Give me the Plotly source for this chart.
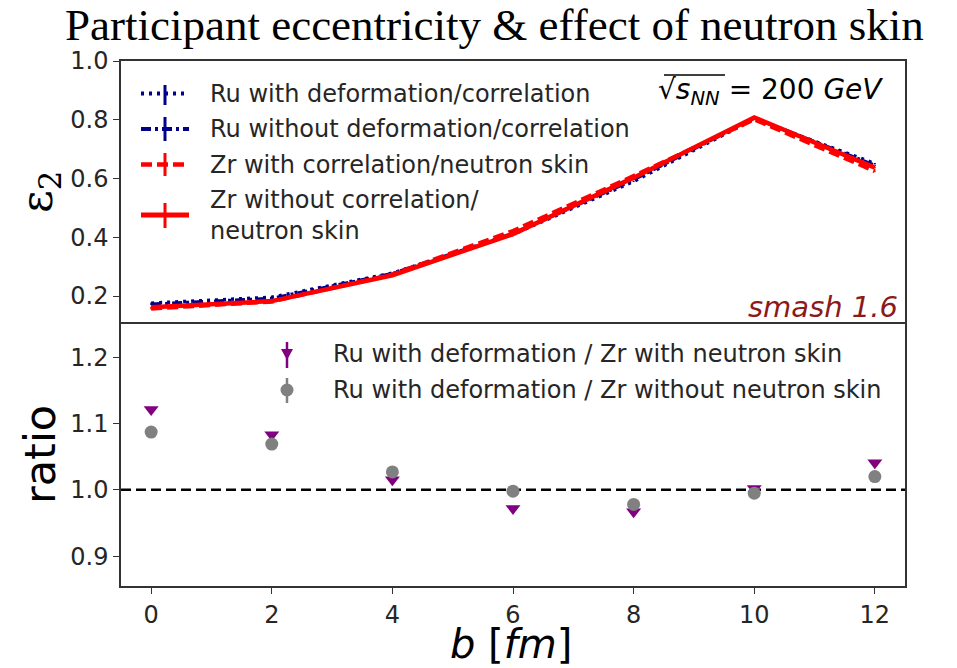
import plotly.graph_objects as go

# impact parameter b [fm]
b_fm = [0, 2, 4, 6, 8, 10, 12]

# participant eccentricity epsilon_2 for the four nucleus configurations
eps2_ru_def = [0.176, 0.196, 0.278, 0.410, 0.590, 0.803, 0.651]
eps2_ru_nodef = [0.172, 0.192, 0.276, 0.413, 0.596, 0.806, 0.645]
eps2_zr_skin = [0.157, 0.181, 0.274, 0.422, 0.609, 0.801, 0.625]
eps2_zr_noskin = [0.162, 0.183, 0.271, 0.411, 0.603, 0.808, 0.637]
eps2_err = [0.002, 0.002, 0.002, 0.002, 0.002, 0.002, 0.002]

# ratios Ru(deformed) / Zr
ratio_skin = [1.121, 1.083, 1.015, 0.972, 0.967, 1.002, 1.041]
ratio_noskin = [1.087, 1.069, 1.027, 0.998, 0.978, 0.995, 1.020]
ratio_err = [0.003, 0.003, 0.003, 0.003, 0.003, 0.003, 0.003]

x_ticks = [0, 2, 4, 6, 8, 10, 12]
eps_ticks = [0.2, 0.4, 0.6, 0.8, 1.0]
ratio_ticks = [0.9, 1.0, 1.1, 1.2]

top_labels = [
    "Ru with deformation/correlation",
    "Ru without deformation/correlation",
    "Zr with correlation/neutron skin",
    "Zr without correlation/<br>neutron skin",
]
bottom_labels = [
    "Ru with deformation / Zr with neutron skin",
    "Ru with deformation / Zr without neutron skin",
]

W, H = 957, 668
L, R, T, B = 121, 905, 61, 586
SPLIT = 324


def px(xp):
    return (xp - L) / (R - L)


def py(yp):
    return (B - yp) / (B - T)


NAVY = "#00008b"
RED = "#ff0000"
PURPLE = "#800080"
GREY = "#808080"
AX = "#333333"
TXT = "#262626"

fig = go.Figure()

line_specs = [
    (eps2_ru_def, NAVY, "3px,5px", 3.5),
    (eps2_ru_nodef, NAVY, "10px,4px,3px,4px", 3.5),
    (eps2_zr_skin, RED, "11px,5px", 4),
    (eps2_zr_noskin, RED, "solid", 4.5),
]
for vals, col, dash, w in line_specs:
    fig.add_trace(go.Scatter(
        x=b_fm, y=vals, mode="lines", xaxis="x", yaxis="y",
        line=dict(color=col, dash=dash, width=w),
        error_y=dict(type="data", array=eps2_err, color=col, thickness=2, width=0),
        showlegend=False, hoverinfo="skip"))

fig.add_trace(go.Scatter(
    x=b_fm, y=ratio_skin, mode="markers", xaxis="x2", yaxis="y2",
    marker=dict(symbol="triangle-down", size=13, color=PURPLE),
    error_y=dict(type="data", array=ratio_err, color=PURPLE, thickness=2, width=0),
    showlegend=False))
fig.add_trace(go.Scatter(
    x=b_fm, y=ratio_noskin, mode="markers", xaxis="x2", yaxis="y2",
    marker=dict(symbol="circle", size=13, color=GREY),
    error_y=dict(type="data", array=ratio_err, color=GREY, thickness=2, width=0),
    showlegend=False))

shapes = []
# reference line at ratio = 1
shapes.append(dict(type="line", xref="x2 domain", yref="y2", x0=0, x1=1, y0=1.0, y1=1.0,
                   line=dict(color="black", width=2.5, dash="10px,5px"), layer="below"))

# legend handles, upper panel
rows = [(93.5, 85, 105), (129, 117, 141), (164.5, 153, 176), (215, 203, 228)]
for (yc, y0, y1), (_, col, dash, w) in zip(rows, line_specs):
    shapes.append(dict(type="line", xref="paper", yref="paper",
                       x0=px(141), x1=px(189), y0=py(yc), y1=py(yc),
                       line=dict(color=col, dash=dash, width=w + 0.5)))
    shapes.append(dict(type="line", xref="paper", yref="paper",
                       x0=px(165), x1=px(165), y0=py(y0), y1=py(y1),
                       line=dict(color=col, width=3)))

# legend handles, lower panel
tx, ty = 287, 354
shapes.append(dict(type="line", xref="paper", yref="paper", x0=px(tx), x1=px(tx),
                   y0=py(342), y1=py(368), line=dict(color=PURPLE, width=2.5)))
shapes.append(dict(type="path", xref="paper", yref="paper",
                   path=f"M {px(tx-6)},{py(ty-5)} L {px(tx+6)},{py(ty-5)} L {px(tx)},{py(ty+6)} Z",
                   fillcolor=PURPLE, line=dict(color=PURPLE, width=0)))
cx, cy = 287, 390
shapes.append(dict(type="line", xref="paper", yref="paper", x0=px(cx), x1=px(cx),
                   y0=py(378), y1=py(403), line=dict(color=GREY, width=2.5)))
shapes.append(dict(type="circle", xref="paper", yref="paper",
                   x0=px(cx - 6.5), x1=px(cx + 6.5), y0=py(cy - 6.5), y1=py(cy + 6.5),
                   fillcolor=GREY, line=dict(color=GREY, width=0)))

# radical bar over s_NN
shapes.append(dict(type="line", xref="paper", yref="paper", x0=px(664), x1=px(725),
                   y0=py(75), y1=py(75), line=dict(color="black", width=1.3)))

ann = []
ann.append(dict(text="Participant eccentricity &amp; effect of neutron skin",
                xref="paper", yref="paper", x=px(494), y=py(25), showarrow=False,
                xanchor="center", yanchor="middle",
                font=dict(family="Liberation Serif", size=45, color="black")))
for (yc, _, _), lab in zip(rows, top_labels):
    ann.append(dict(text=lab, xref="paper", yref="paper", x=px(208), y=py(yc),
                    showarrow=False, xanchor="left", yanchor="middle", align="left",
                    font=dict(family="DejaVu Sans", size=24, color=TXT)))
for yc, lab in zip([354, 390], bottom_labels):
    ann.append(dict(text=lab, xref="paper", yref="paper", x=px(331), y=py(yc),
                    showarrow=False, xanchor="left", yanchor="middle",
                    font=dict(family="DejaVu Sans", size=24, color=TXT)))
ann.append(dict(text="√<i>s</i><sub><i>NN</i></sub> = 200 <i>GeV</i>",
                xref="paper", yref="paper", x=px(885), y=py(92), showarrow=False,
                xanchor="right", yanchor="middle",
                font=dict(family="DejaVu Sans", size=28, color="black")))
ann.append(dict(text="<i>smash 1.6</i>", xref="paper", yref="paper", x=px(900), y=py(307),
                showarrow=False, xanchor="right", yanchor="middle",
                font=dict(family="DejaVu Sans", size=29, color="#8c1a1a")))
ann.append(dict(text="ε<sub>2</sub>", xref="paper", yref="paper", x=px(40), y=py(192),
                showarrow=False, textangle=-90, xanchor="center", yanchor="middle",
                font=dict(family="DejaVu Serif", size=44, color="black")))
ann.append(dict(text="ratio", xref="paper", yref="paper", x=px(40), y=py(455),
                showarrow=False, textangle=-90, xanchor="center", yanchor="middle",
                font=dict(family="DejaVu Sans", size=43, color="black")))
ann.append(dict(text="<i>b</i> [<i>fm</i>]", xref="paper", yref="paper", x=px(511), y=py(644),
                showarrow=False, xanchor="center", yanchor="middle",
                font=dict(family="DejaVu Sans", size=40, color="black")))

split_y = py(SPLIT)
tick_font = dict(family="DejaVu Sans", size=24, color=TXT)
frame = dict(linecolor=AX, linewidth=1.5, showgrid=False, zeroline=False)
tick_style = dict(tickfont=tick_font, tickcolor=AX, ticklen=6, tickwidth=1.3)

fig.update_layout(
    width=W, height=H,
    margin=dict(l=L, r=W - R, t=T, b=H - B),
    paper_bgcolor="white", plot_bgcolor="white",
    showlegend=False,
    # upper panel: only the top edge here, the shared edge comes from the lower panel
    xaxis=dict(domain=[0, 1], anchor="y", side="top", range=[-0.5, 12.5], ticks="",
               showticklabels=False, showline=True, mirror=False, **frame),
    yaxis=dict(domain=[split_y, 1], anchor="x", range=[0.105, 1.0], tickvals=eps_ticks,
               ticktext=[f"{v:.1f}" for v in eps_ticks], ticks="outside",
               showline=True, mirror=True, **frame, **tick_style),
    xaxis2=dict(domain=[0, 1], anchor="y2", range=[-0.5, 12.5], tickvals=x_ticks,
                ticks="outside", showline=True, mirror=True, **frame, **tick_style),
    yaxis2=dict(domain=[0, split_y], anchor="x2", range=[0.855, 1.25], tickvals=ratio_ticks,
                ticktext=[f"{v:.1f}" for v in ratio_ticks], ticks="outside",
                showline=True, mirror=True, **frame, **tick_style),
    shapes=shapes,
    annotations=ann,
)

fig.write_html("out.html")
